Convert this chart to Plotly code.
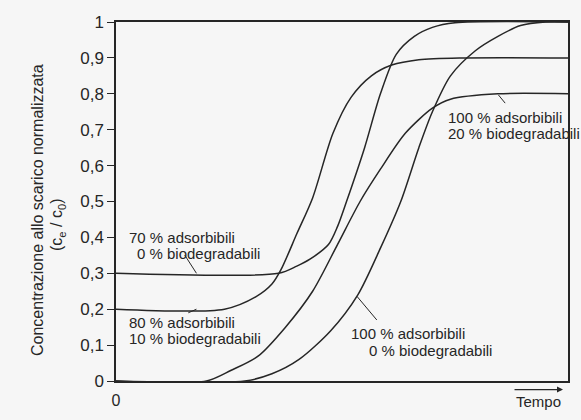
import plotly.graph_objects as go

# Breakthrough curves: normalised effluent concentration vs. time (arbitrary time units 0-100)
x_70_0 = [0, 36, 40, 43, 47, 49, 51, 55, 58.5, 62, 66, 70, 75, 100]
y_70_0 = [0.30, 0.30, 0.32, 0.34, 0.38, 0.43, 0.50, 0.65, 0.80, 0.91, 0.96, 0.985, 0.998, 1.0]

x_80_10 = [0, 24, 31, 34.5, 36.5, 40, 43.5, 48, 52, 56.5, 61, 67, 77, 100]
y_80_10 = [0.20, 0.20, 0.235, 0.27, 0.31, 0.41, 0.51, 0.69, 0.79, 0.85, 0.88, 0.895, 0.90, 0.90]

x_100_20 = [0, 20, 25.5, 31.5, 37.5, 43.5, 49, 54, 58.5, 64, 70, 74, 84.5, 100]
y_100_20 = [0, 0, 0.03, 0.07, 0.15, 0.25, 0.38, 0.50, 0.59, 0.69, 0.76, 0.785, 0.80, 0.80]

x_100_0 = [0, 28.5, 34.5, 40.5, 47.5, 53.5, 58.5, 63, 67, 70, 74, 79.5, 84.5, 89.5, 95, 100]
y_100_0 = [0, 0, 0.02, 0.06, 0.14, 0.24, 0.37, 0.50, 0.65, 0.75, 0.85, 0.92, 0.96, 0.99, 1.0, 1.0]

y_ticks = [0, 0.1, 0.2, 0.3, 0.4, 0.5, 0.6, 0.7, 0.8, 0.9, 1.0]
y_tick_text = ["0", "0,1", "0,2", "0,3", "0,4", "0,5", "0,6", "0,7", "0,8", "0,9", "1"]

INK = "#262626"
FONT = "Liberation Sans, Arial, sans-serif"

fig = go.Figure()
for xs, ys in [(x_70_0, y_70_0), (x_80_10, y_80_10), (x_100_20, y_100_20), (x_100_0, y_100_0)]:
    fig.add_trace(go.Scatter(
        x=xs, y=ys, mode="lines",
        line=dict(color=INK, width=1.5, shape="spline", smoothing=0.8),
        hoverinfo="skip", showlegend=False,
    ))

# Curve labels, one annotation per text line
labels = [
    ("70 % adsorbibili", 2.4, 0.401),
    ("0 % biodegradabili", 4.2, 0.354),
    ("80 % adsorbibili", 2.4, 0.162),
    ("10 % biodegradabili", 2.4, 0.118),
    ("100 % adsorbibili", 51.5, 0.131),
    ("0 % biodegradabili", 55.5, 0.086),
    ("100 % adsorbibili", 72.9, 0.735),
    ("20 % biodegradabili", 72.9, 0.690),
]
for text, lx, ly in labels:
    fig.add_annotation(x=lx, y=ly, text=text, showarrow=False, xanchor="left", yanchor="middle",
                       font=dict(family=FONT, size=15, color=INK))

# Leader lines from labels to curves
leaders = [
    (15.2, 0.351, 17.8, 0.300),
    (16.0, 0.190, 17.8, 0.200),
    (57.7, 0.170, 53.3, 0.236),
    (86.1, 0.774, 84.6, 0.797),
]
for x0, y0, x1, y1 in leaders:
    fig.add_shape(type="line", x0=x0, y0=y0, x1=x1, y1=y1, xref="x", yref="y",
                  line=dict(color=INK, width=1))

# Time axis label with arrow (paper coordinates: x range 0-100 maps to 0-1)
fig.add_annotation(xref="paper", yref="paper", x=0.934, y=-0.058, text="Tempo", showarrow=False,
                   xanchor="center", yanchor="middle",
                   font=dict(family=FONT, size=15, color=INK))
fig.add_annotation(xref="paper", yref="paper", x=0.989, y=-0.024, ax=-50, ay=0,
                   text="", showarrow=True, arrowhead=2, arrowsize=1, arrowwidth=1.2, arrowcolor=INK)

# Y-axis title, two lines
fig.add_annotation(xref="paper", yref="paper", x=-0.175, y=0.476, textangle=-90,
                   xanchor="center", yanchor="middle",
                   text="Concentrazione allo scarico normalizzata", showarrow=False,
                   font=dict(family=FONT, size=16, color=INK))
fig.add_annotation(xref="paper", yref="paper", x=-0.128, y=0.435, textangle=-90,
                   xanchor="center", yanchor="middle",
                   text="(c<sub>e</sub> / c<sub>0</sub>)", showarrow=False,
                   font=dict(family=FONT, size=16, color=INK))

fig.update_xaxes(range=[0, 100], showline=True, mirror=True, linecolor=INK, linewidth=1.5,
                 showgrid=False, zeroline=False, tickvals=[0], ticktext=["0"], ticks="",
                 ticklabelstandoff=4,
                 tickfont=dict(family=FONT, size=16, color=INK))
fig.update_yaxes(range=[0, 1], showline=True, mirror=True, linecolor=INK, linewidth=1.5,
                 showgrid=False, zeroline=False, tickvals=y_ticks, ticktext=y_tick_text,
                 ticks="outside", ticklen=7, tickwidth=1.2, tickcolor=INK,
                 tickfont=dict(family=FONT, size=17, color=INK))

fig.update_layout(
    width=581, height=420,
    margin=dict(l=116, r=11, t=22, b=39),
    paper_bgcolor="#f6f6f6", plot_bgcolor="#f6f6f6",
    showlegend=False,
)

fig.write_html("out.html")
